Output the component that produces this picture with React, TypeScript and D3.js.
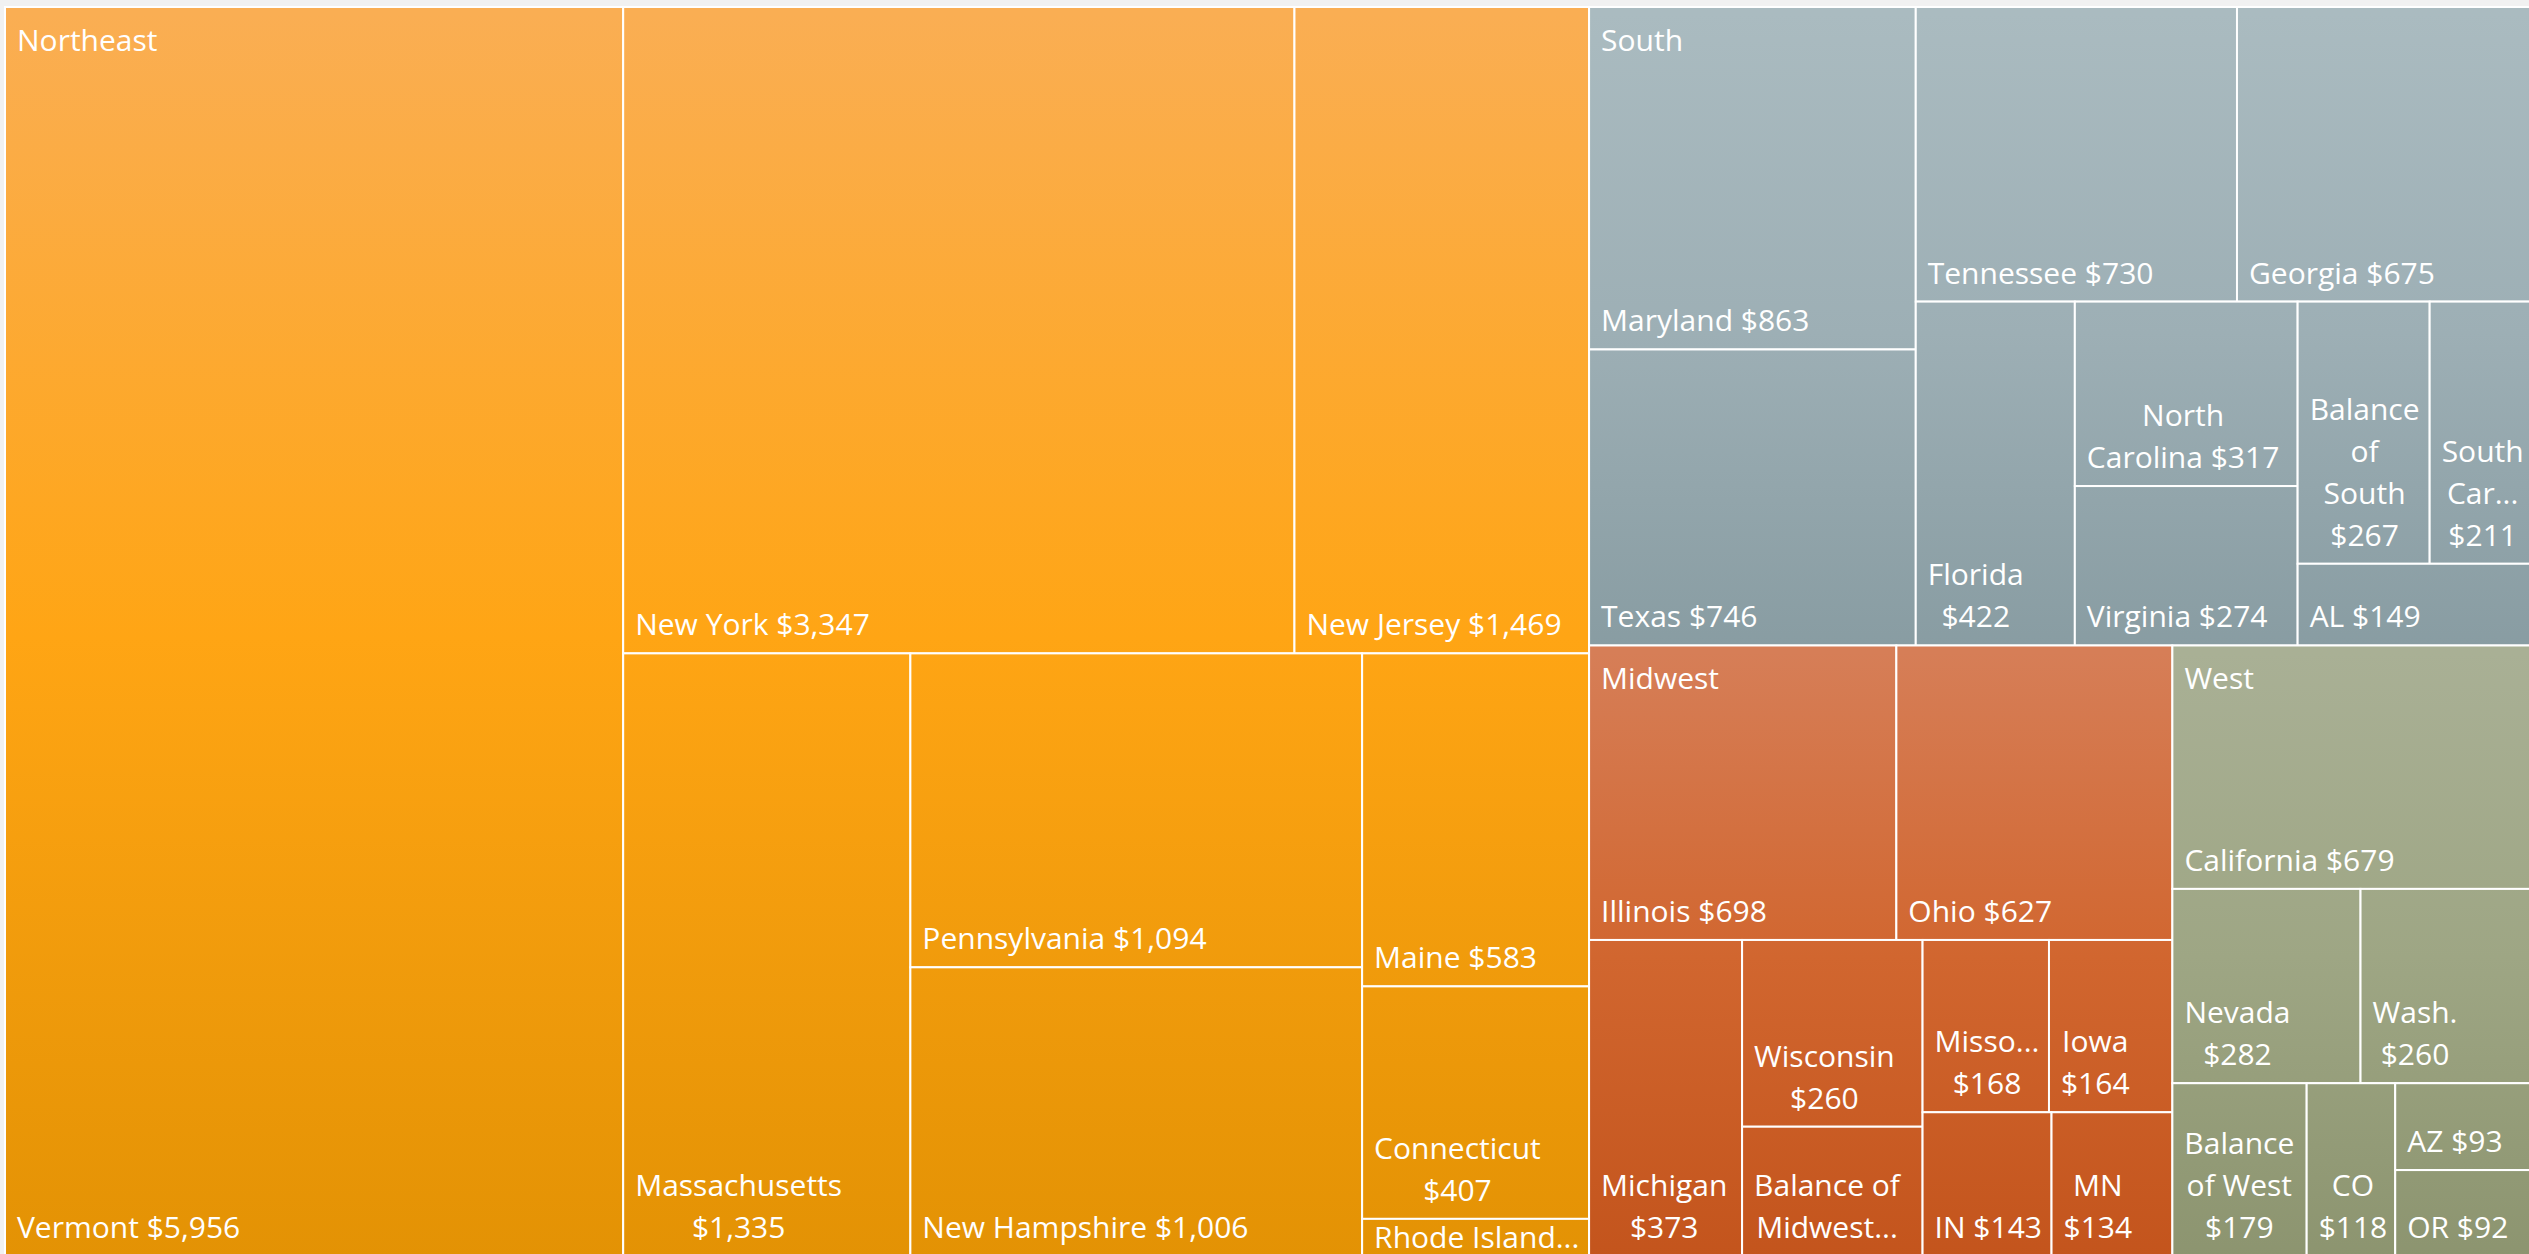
import React, { useMemo } from "react";
import * as d3 from "d3";

// ---- data ----
const regions = ["Northeast", "South", "Midwest", "West"];

const northeastStates = ["Vermont", "New York", "New Jersey", "Massachusetts", "Pennsylvania", "New Hampshire", "Maine", "Connecticut", "Rhode Island"];
const northeastValues = [5956, 3347, 1469, 1335, 1094, 1006, 583, 407, 65];

const southStates = ["Maryland", "Texas", "Tennessee", "Georgia", "Florida", "North Carolina", "Virginia", "Balance of South", "South Carolina", "AL"];
const southValues = [863, 746, 730, 675, 422, 317, 274, 267, 211, 149];

const midwestStates = ["Illinois", "Ohio", "Michigan", "Wisconsin", "Balance of Midwest", "Missouri", "Iowa", "IN", "MN"];
const midwestValues = [698, 627, 373, 260, 180, 168, 164, 143, 134];

const westStates = ["California", "Nevada", "Wash.", "Balance of West", "CO", "AZ", "OR"];
const westValues = [679, 282, 260, 179, 118, 93, 92];

const regionStates = [northeastStates, southStates, midwestStates, westStates];
const regionValues = [northeastValues, southValues, midwestValues, westValues];

// gradient colours per region: top, middle, bottom
const regionColors = [
  ["#FAAE53", "#FFA514", "#E39204"],
  ["#AABBC0", "#9DAFB5", "#889CA2"],
  ["#D67E57", "#D1662F", "#C3541C"],
  ["#A9B095", "#9EA684", "#8C946F"],
];

// ---- layout constants ----
const W = 2529;
const H = 1254;
const X0 = 5;
const Y0 = 7;
const TW = 2529;
const TH = 1249;
const FONT = '"Open Sans", "Noto Sans", sans-serif';
const FS = 30;
const LH = 42;
const PAD_L = 12;
const PAD_W = 18;
const BASE_OFF = 18;
const TOP_BASE = 29;
const ASPECT = 0.8;

function excelTile(parent: any, x0: number, y0: number, x1: number, y1: number) {
  const nodes = parent.children;
  const n = nodes.length;
  let value = parent.value;
  let i0 = 0;
  while (i0 < n) {
    const dx = x1 - x0;
    const dy = y1 - y0;
    const column = dx >= dy;
    const start = i0;
    const worst = (sum: number, end: number) => {
      const thick = ((column ? dx : dy) * sum) / value;
      let m = 0;
      for (let k = start; k < end; k++) {
        const len = ((column ? dy : dx) * nodes[k].value) / sum;
        const wh = column ? thick / len : len / thick;
        m = Math.max(m, wh / ASPECT, ASPECT / wh);
      }
      return m;
    };
    let i1 = i0 + 1;
    let sum = nodes[i0].value;
    let best = worst(sum, i1);
    while (i1 < n) {
      const next = sum + nodes[i1].value;
      const m = worst(next, i1 + 1);
      if (m > best) break;
      best = m;
      sum = next;
      i1++;
    }
    const row: any = { value: sum, children: nodes.slice(i0, i1) };
    if (column) {
      const xm = i1 >= n ? x1 : x0 + (dx * sum) / value;
      d3.treemapSlice(row, x0, y0, xm, y1);
      x0 = xm;
    } else {
      const ym = i1 >= n ? y1 : y0 + (dy * sum) / value;
      d3.treemapDice(row, x0, y0, x1, ym);
      y0 = ym;
    }
    value -= sum;
    i0 = i1;
  }
}

function makeMeasure() {
  const ctx = document.createElement("canvas").getContext("2d") as CanvasRenderingContext2D;
  ctx.font = `${FS}px ${FONT}`;
  return (s: string) => ctx.measureText(s).width;
}

function truncate(word: string, avail: number, measure: (s: string) => number) {
  let s = word;
  while (s.length > 1 && measure(s + "...") > avail) s = s.slice(0, -1);
  return s + "...";
}

function wrapLabel(label: string, w: number, h: number, measure: (s: string) => number) {
  const avail = w - PAD_W;
  const words = label.split(" ");
  const lines: string[] = [];
  let cur = "";
  for (const word of words) {
    const test = cur ? cur + " " + word : word;
    if (measure(test) <= avail) {
      cur = test;
    } else {
      if (cur) lines.push(cur);
      cur = measure(word) > avail ? truncate(word, avail, measure) : word;
    }
  }
  if (cur) lines.push(cur);
  const maxLines = Math.max(1, Math.floor((h - 20) / LH));
  if (lines.length > maxLines) {
    const kept = lines.slice(0, maxLines);
    let last = kept[maxLines - 1];
    if (!last.endsWith("...")) {
      if (measure(last + "...") <= avail) last = last + "...";
      else last = truncate(last, avail, measure);
    }
    kept[maxLines - 1] = last;
    return kept;
  }
  return lines;
}

export default function App() {
  const fmt = d3.format("$,");
  const { groups, leaves, measure } = useMemo(() => {
    const data = {
      name: "root",
      children: regions.map((r, i) => ({
        name: r,
        children: regionStates[i].map((s, j) => ({ name: s, value: regionValues[i][j] })),
      })),
    };
    const root = d3
      .hierarchy<any>(data)
      .sum((d: any) => d.value || 0)
      .sort((a, b) => (b.value || 0) - (a.value || 0));
    d3.treemap<any>().tile(excelTile as any).size([TW, TH]).paddingInner(0)(root);
    return { groups: root.children || [], leaves: root.leaves(), measure: makeMeasure() };
  }, []);

  return (
    <svg
      width={W}
      height={H}
      style={{ position: "absolute", left: 0, top: 0, display: "block" }}
      fontFamily={FONT}
    >
      <defs>
        {groups.map((g: any) => {
          const idx = regions.indexOf(g.data.name);
          const c = regionColors[idx];
          return (
            <linearGradient
              key={g.data.name}
              id={`grad-${idx}`}
              gradientUnits="userSpaceOnUse"
              x1={0}
              x2={0}
              y1={Y0 + g.y0}
              y2={Y0 + g.y1}
            >
              <stop offset="0%" stopColor={c[0]} />
              <stop offset="50%" stopColor={c[1]} />
              <stop offset="100%" stopColor={c[2]} />
            </linearGradient>
          );
        })}
      </defs>
      <rect x={0} y={0} width={W} height={H} fill="#F1F1F1" />
      <g transform={`translate(${X0},${Y0})`}>
        {leaves.map((l: any) => {
          const idx = regions.indexOf(l.parent.data.name);
          return (
            <rect
              key={l.data.name}
              x={l.x0}
              y={l.y0}
              width={l.x1 - l.x0}
              height={l.y1 - l.y0}
              fill={`url(#grad-${idx})`}
              stroke="#FFFFFF"
              strokeWidth={2}
            />
          );
        })}
        {leaves.map((l: any) => {
          const w = l.x1 - l.x0;
          const h = l.y1 - l.y0;
          const lines = wrapLabel(`${l.data.name} ${fmt(l.value)}`, w, h, measure);
          const maxW = Math.max(...lines.map((s) => measure(s)));
          const cx = l.x0 + PAD_L + maxW / 2;
          const firstBase = Math.max(l.y1 - BASE_OFF - (lines.length - 1) * LH, l.y0 + TOP_BASE);
          return (
            <text key={l.data.name + "-t"} fill="#FFFFFF" fontSize={FS} textAnchor="middle">
              {lines.map((s, i) => (
                <tspan key={i} x={cx} y={firstBase + i * LH}>
                  {s}
                </tspan>
              ))}
            </text>
          );
        })}
        {groups.map((g: any) => (
          <text key={g.data.name + "-g"} x={g.x0 + PAD_L} y={g.y0 + 44} fill="#FFFFFF" fontSize={FS}>
            {g.data.name}
          </text>
        ))}
      </g>
    </svg>
  );
}
